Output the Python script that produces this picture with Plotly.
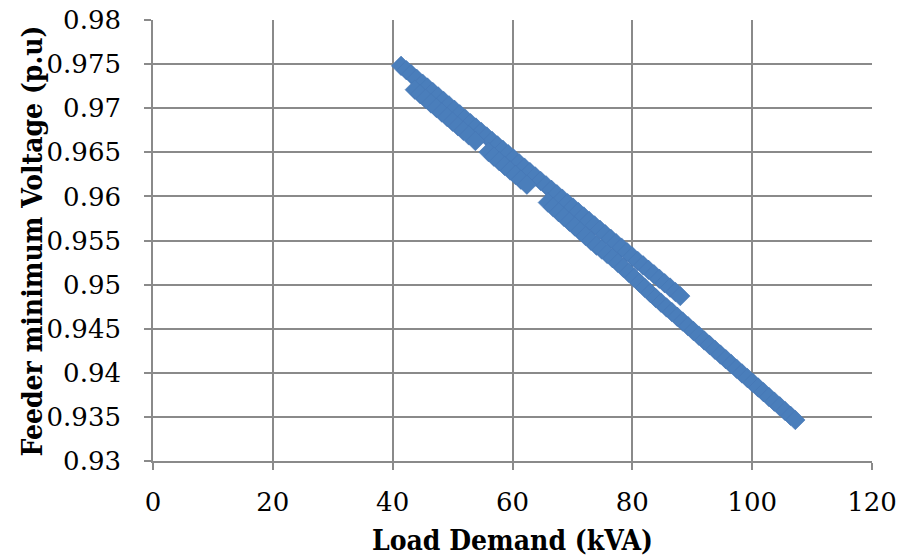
import plotly.graph_objects as go

# Feeder minimum voltage vs. load demand, two sweeps of the daily profile
upper_load = [41.4, 42.3, 43.1, 44.0, 45.0, 45.8, 46.7, 47.6, 48.5, 49.4, 50.3, 51.2,
              52.1, 53.0, 53.9, 54.8, 55.7, 56.6, 57.5, 58.4, 59.3, 60.2, 61.1, 62.0,
              62.9, 63.8, 64.7, 65.6, 66.5, 67.4, 68.3, 69.2, 70.1, 71.0, 71.9, 72.8,
              73.7, 74.6, 75.5, 76.4, 77.3, 78.2, 79.1, 80.0, 80.9, 81.8, 82.7, 83.6,
              84.5, 85.4, 86.3, 87.2, 88.0]
upper_vmin = [0.9748, 0.9743, 0.97385, 0.97334, 0.97278, 0.97234, 0.97183, 0.97133,
              0.97082, 0.97032, 0.96982, 0.96931, 0.96881, 0.9683, 0.9678, 0.9673,
              0.96679, 0.96629, 0.96578, 0.96528, 0.96478, 0.96427, 0.96377, 0.96326,
              0.96276, 0.96226, 0.96175, 0.96125, 0.96074, 0.96024, 0.95974, 0.95923,
              0.95873, 0.95822, 0.95772, 0.95722, 0.95671, 0.95621, 0.9557, 0.9552,
              0.9547, 0.95419, 0.95369, 0.95318, 0.95268, 0.95218, 0.95167, 0.95117,
              0.95066, 0.95016, 0.94966, 0.94915, 0.9487]

lower_load = [43.7, 44.6, 45.5, 46.4, 47.3, 48.2, 49.1, 50.0, 50.9, 51.8, 52.7, 53.8,
              56.0, 56.9, 57.8, 58.7, 59.6, 60.5, 61.4, 62.4,
              65.9, 66.8, 67.7, 68.6, 69.5, 70.4, 71.3, 72.2, 73.1, 74.0, 74.9, 75.8,
              76.7, 77.6, 78.5, 79.4, 80.3, 81.2, 82.1, 83.0, 83.9, 84.8, 85.7, 86.6,
              87.5, 88.4, 89.3, 90.2, 91.1, 92.0, 92.9, 93.8, 94.7, 95.6, 96.5, 97.4,
              98.3, 99.2, 100.1, 101.0, 101.9, 102.8, 103.7, 104.6, 105.5, 106.4, 107.2]
lower_vmin = [0.9721, 0.97158, 0.97106, 0.97054, 0.97003, 0.96951, 0.96899, 0.96847,
              0.96795, 0.96743, 0.96692, 0.96628,
              0.96502, 0.9645, 0.96398, 0.96346, 0.96294, 0.96242, 0.9619, 0.96133,
              0.9593, 0.95876, 0.95821, 0.95767, 0.95713, 0.95659, 0.95604, 0.9555,
              0.95496, 0.95442, 0.95397, 0.95348, 0.95299, 0.95245, 0.9519, 0.95134,
              0.95077, 0.9502, 0.94962, 0.94905, 0.94848, 0.94795, 0.94741, 0.94688,
              0.94635, 0.94581, 0.94528, 0.94474, 0.94421, 0.94367, 0.94314, 0.9426,
              0.94207, 0.94154, 0.941, 0.94047, 0.93993, 0.9394, 0.93887, 0.93833,
              0.9378, 0.93726, 0.93673, 0.9362, 0.93566, 0.93513, 0.93465]

x_ticks = [0, 20, 40, 60, 80, 100, 120]
y_ticks = [0.93, 0.935, 0.94, 0.945, 0.95, 0.955, 0.96, 0.965, 0.97, 0.975, 0.98]
y_tick_text = ["0.93", "0.935", "0.94", "0.945", "0.95", "0.955", "0.96", "0.965",
               "0.97", "0.975", "0.98"]

BLUE = "#4A7EBB"
GRID = "#8A8A8A"
TICK_FONT = "DejaVu Serif"
TITLE_FONT = "DejaVu Serif Condensed, Liberation Serif, serif"
title_font = dict(family=TITLE_FONT, size=28, color="#000000", weight="bold")

fig = go.Figure()
fig.add_trace(go.Scatter(
    x=upper_load + lower_load,
    y=upper_vmin + lower_vmin,
    mode="markers",
    marker=dict(symbol="diamond", size=15, color=BLUE,
                line=dict(color="#4677B6", width=0.6)),
    showlegend=False,
))

axis_common = dict(
    showgrid=True, gridcolor=GRID, gridwidth=1.6,
    showline=True, linecolor=GRID, linewidth=1.6,
    ticks="outside", tickcolor=GRID, tickwidth=1.6, ticklen=7,
    zeroline=False, automargin=False,
    tickfont=dict(family=TICK_FONT, size=26, color="#000000"),
)

fig.update_xaxes(
    range=[0, 120], tickvals=x_ticks, ticktext=[str(v) for v in x_ticks],
    title=dict(text="Load Demand (kVA)", standoff=14, font=title_font),
    ticklabelstandoff=10,
    **axis_common,
)
fig.update_yaxes(
    range=[0.93, 0.98], tickvals=y_ticks, ticktext=y_tick_text,
    ticklabelstandoff=18,
    **axis_common,
)

# vertical axis title placed beside the tick labels
fig.add_annotation(
    text="Feeder minimum Voltage (p.u)", textangle=-90,
    xref="paper", yref="paper", x=-0.167, y=0.5,
    xanchor="center", yanchor="middle", showarrow=False,
    font=title_font,
)

fig.update_layout(
    width=900, height=557,
    margin=dict(l=153, r=28, t=20, b=96),
    paper_bgcolor="#FFFFFF", plot_bgcolor="#FFFFFF",
    font=dict(family=TICK_FONT),
)

fig.write_html("out.html")
